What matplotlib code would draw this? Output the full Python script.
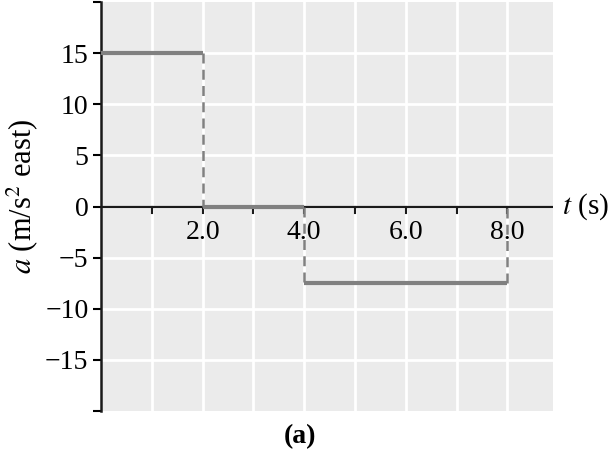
import numpy as np
import matplotlib.pyplot as plt

# acceleration step values (m/s^2 east)
t_edges = [0.0, 2.0, 4.0, 8.0]
a_vals = [15.0, 0.0, -7.5]

x_ticks = [2, 4, 6, 8]
x_ticklabels = ["2.0", "4.0", "6.0", "8.0"]
y_ticks = [-15, -10, -5, 0, 5, 10, 15]
y_ticklabels = ["\u221215", "\u221210", "\u22125", "0", "5", "10", "15"]

plt.rcParams['font.family'] = ['Liberation Serif', 'DejaVu Serif']
plt.rcParams['mathtext.fontset'] = 'stix'

fig = plt.figure(figsize=(6.09, 4.55), dpi=100)
ax = fig.add_axes([101/609, 1 - 411/455, (553-101)/609, (411-2)/455])
ax.set_facecolor('#ebebeb')
ax.set_xlim(0, 8.9)
ax.set_ylim(-20, 20)

# grid
for x in range(1, 9):
    ax.axvline(x, color='white', lw=2, zorder=1)
for y in y_ticks:
    ax.axhline(y, color='white', lw=2, zorder=1)

# x axis at a = 0
ax.axhline(0, color='#1a1a1a', lw=1.6, zorder=2)
for spine in ['top', 'right', 'bottom']:
    ax.spines[spine].set_visible(False)
ax.spines['left'].set_linewidth(1.8)
ax.spines['left'].set_color('#1a1a1a')

ax.set_yticks([-20] + y_ticks + [20])
ax.set_yticklabels([""] + y_ticklabels + [""], fontsize=20)
ax.tick_params(axis='y', length=6, width=1.5, pad=3)
ax.set_xticks([])

# x ticks on the a = 0 line
for x in range(1, 9):
    ax.plot([x, x], [0, -0.6], color='#1a1a1a', lw=1.5, zorder=3, clip_on=False)
for x, lab in zip(x_ticks, x_ticklabels):
    ax.text(x, -1.3, lab, ha='center', va='top', fontsize=20, zorder=4)

# step segments
for i, a in enumerate(a_vals):
    ax.plot([t_edges[i], t_edges[i+1]], [a, a], color='#808080', lw=3, zorder=5,
            solid_capstyle='butt')
# dashed jumps
jumps = [(2.0, 15.0, 0.0), (4.0, 0.0, -7.5), (8.0, -7.5, 0.0)]
for x, y0, y1 in jumps:
    ax.plot([x, x], [y0, y1], color='#808080', lw=1.8, ls=(0, (4, 2.5)), zorder=4)

ax.text(9.08, 0, r"$t$ (s)", fontsize=21, va='center', ha='left', clip_on=False)
ax.set_ylabel(r"$a$ (m/s$^2$ east)", fontsize=22)
ax.yaxis.set_label_coords(-0.135, 0.525)
fig.text(300/609, 1 - 437/455, "(a)", fontsize=20, fontweight='bold', ha='center', va='center')

fig.savefig("out.png", dpi=100)
